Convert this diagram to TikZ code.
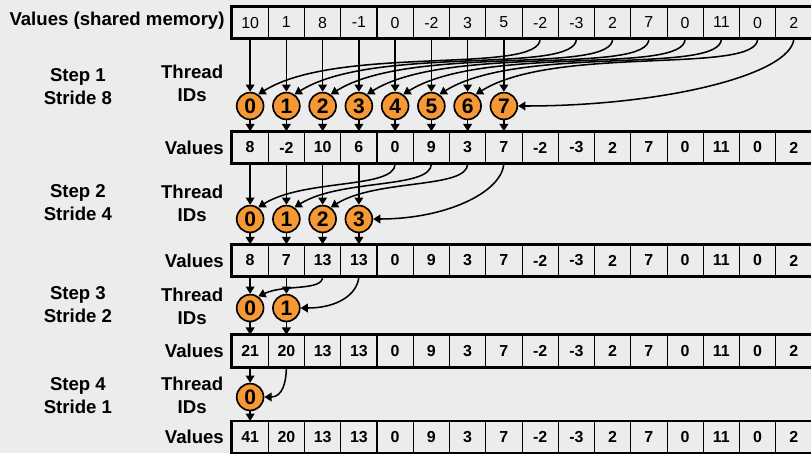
\documentclass[tikz,border=0pt]{standalone}
\usepackage{fontspec}
\setmainfont{Liberation Sans}
\usepackage{tikz}
\usetikzlibrary{
	arrows.meta,
	positioning,
	backgrounds
}
\definecolor{paper}{RGB}{236,236,236}
\definecolor{thr}{RGB}{246,152,52}
\tikzset{
	cell/.style={draw, line width=0.8pt, minimum width=1cm, minimum height=0.87cm, inner sep=0, font=\fontsize{12.5}{14}\selectfont\bfseries},
	tid/.style={circle, draw, line width=1.3pt, fill=thr, minimum size=0.74cm, inner sep=0, font=\fontsize{16.5}{16}\selectfont\bfseries},
	lbl/.style={align=center, font=\fontsize{14.6}{18}\selectfont\bfseries},
	arr/.style={-{Triangle[length=2mm, width=2.4mm]}, line width=1.2pt}
}

\begin{document}
\begin{tikzpicture}[thick]
	\fill[paper] (0,0) rectangle (22.372,-12.497);
	\useasboundingbox (0,0) rectangle (22.372,-12.497);

	% value rows
	\foreach \v [count=\i from 0] in {10,1,8,-1,0,-2,3,5,-2,-3,2,7,0,11,0,2}
		\node[cell, font=\fontsize{12.5}{14}\selectfont] (r0-\i) at (6.9+\i, -0.621) {\v};
	\foreach \v [count=\i from 0] in {8,-2,10,6,0,9,3,7,-2,-3,2,7,0,11,0,2}
		\node[cell] (r1-\i) at (6.9+\i, -4.069) {\v};
	\foreach \v [count=\i from 0] in {8,7,13,13,0,9,3,7,-2,-3,2,7,0,11,0,2}
		\node[cell] (r2-\i) at (6.9+\i, -7.186) {\v};
	\foreach \v [count=\i from 0] in {21,20,13,13,0,9,3,7,-2,-3,2,7,0,11,0,2}
		\node[cell] (r3-\i) at (6.9+\i, -9.683) {\v};
	\foreach \v [count=\i from 0] in {41,20,13,13,0,9,3,7,-2,-3,2,7,0,11,0,2}
		\node[cell] (r4-\i) at (6.9+\i, -12.06) {\v};
	\foreach \r in {0,...,4}
		\draw[line width=2.2pt] (r\r-0.north west) rectangle (r\r-15.south east);

	% thread ids
	\foreach \i in {0,...,7} \node[tid] (t1-\i) at (6.9+\i, -2.924) {\i};
	\foreach \i in {0,...,3} \node[tid] (t2-\i) at (6.9+\i, -6.041) {\i};
	\foreach \i in {0,...,1} \node[tid] (t3-\i) at (6.9+\i, -8.497) {\i};
	\node[tid] (t4-0) at (6.9, -10.952) {0};

	% labels
	\node[lbl, left=0.06cm of r0-0, yshift=0.05cm] (v0) {Values (shared memory)};
	\foreach \r in {1,...,4}
		\node[lbl, left=0.08cm of r\r-0] (v\r) {Values};
	\node[lbl] (s1) at (2.15, -2.386) {Step 1\\Stride 8};
	\node[lbl] (s2) at (2.15, -5.60) {Step 2\\Stride 4};
	\node[lbl] (s3) at (2.15, -8.41) {Step 3\\Stride 2};
	\node[lbl] (s4) at (2.15, -10.92) {Step 4\\Stride 1};
	\node[lbl] (th1) at (5.30, -2.30) {Thread\\IDs};
	\node[lbl] (th2) at (5.30, -5.61) {Thread\\IDs};
	\node[lbl] (th3) at (5.30, -8.44) {Thread\\IDs};
	\node[lbl] (th4) at (5.30, -10.91) {Thread\\IDs};

	% step 1
	\foreach \i in {0,...,7} {
		\draw[arr] (r0-\i.south) -- (t1-\i.north);
		\draw[arr] (t1-\i.south) -- (r1-\i.north);
	}
	\foreach \i [evaluate=\i as \j using int(\i+8)] in {0,...,6}
		\draw[arr] (r0-\j.south) to[out=-90, in=32, out distance=1cm, in distance=2.6cm] (t1-\i.55);
	\draw[arr] (r0-15.south) to[out=-95, in=0, out distance=1cm, in distance=4cm] (t1-7.east);

	% step 2
	\foreach \i in {0,...,3} {
		\draw[arr] (r1-\i.south) -- (t2-\i.north);
		\draw[arr] (t2-\i.south) -- (r2-\i.north);
	}
	\foreach \i [evaluate=\i as \j using int(\i+4)] in {0,...,2}
		\draw[arr] (r1-\j.south) to[out=-90, in=32, out distance=0.7cm, in distance=1.5cm] (t2-\i.55);
	\draw[arr] (r1-7.south) to[out=-95, in=0, out distance=0.8cm, in distance=2cm] (t2-3.east);

	% step 3
	\foreach \i in {0,...,1} {
		\draw[arr] (r2-\i.south) -- (t3-\i.north);
		\draw[arr] (t3-\i.south) -- (r3-\i.north);
	}
	\draw[arr] (r2-2.south) to[out=-90, in=25, out distance=0.4cm, in distance=0.8cm] (t3-0.55);
	\draw[arr] (r2-3.south) to[out=-95, in=0, out distance=0.5cm, in distance=1cm] (t3-1.east);

	% step 4
	\draw[arr] (r3-0.south) -- (t4-0.north);
	\draw[arr] (t4-0.south) -- (r4-0.north);
	\draw[arr] (r3-1.south) to[out=-90, in=0, out distance=0.4cm, in distance=0.5cm] (t4-0.east);
\end{tikzpicture}
\end{document}
